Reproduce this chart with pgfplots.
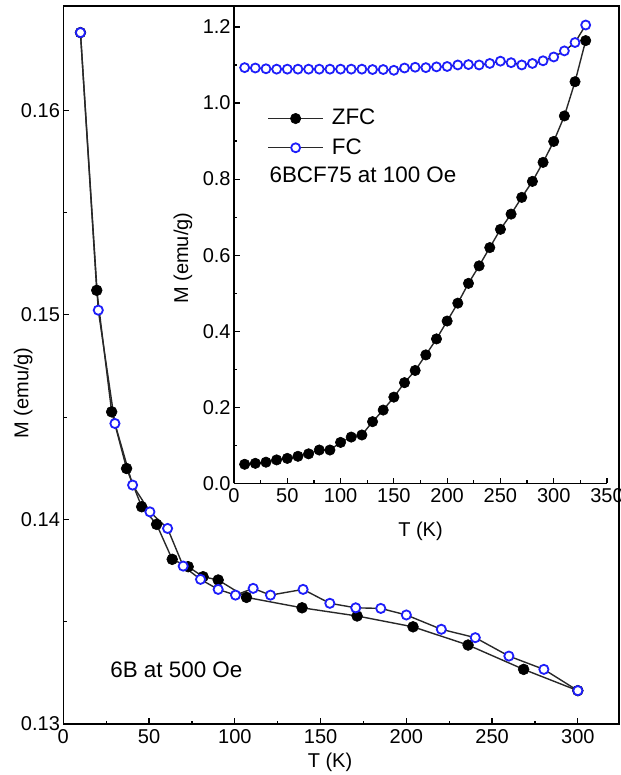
\documentclass[border=0pt]{standalone}
\usepackage{pgfplots}
\pgfplotsset{compat=1.18}
\usepackage{fontspec}
\setmainfont{Liberation Sans}
\definecolor{fcblue}{RGB}{30,30,250}
\definecolor{linegray}{RGB}{40,40,40}
\pgfplotsset{
  every axis/.append style={
    font=\fontsize{10bp}{12bp}\selectfont,
    /pgf/number format/assume math mode=true,
    tick align=inside,
    major tick length=2.8bp, minor tick length=1.6bp,
    axis line style={line width=0.75bp},
    every tick/.style={line width=0.6bp, black},
    yticklabel style={inner sep=1.5bp},
    xticklabel style={inner sep=2.5bp},
  },
  zfc/.style={linegray, line width=0.7bp, mark=*, mark size=2.7bp, mark options={fill=black, draw=black, line width=0.3bp}},
  fc/.style={linegray, line width=0.7bp, mark=*, mark size=2.3bp, mark options={fill=white, draw=fcblue, line width=0.9bp}},
}
\begin{document}
\begin{tikzpicture}
\path[use as bounding box] (0bp,0bp) rectangle (310.5bp,387.5bp);
% main axis
\begin{axis}[
  at={(31.65bp,25.5bp)}, anchor=south west,
  width=277.85bp, height=359bp, scale only axis,
  xmin=0, xmax=324, ymin=0.13, ymax=0.1651,
  xtick={0,50,...,300}, minor x tick num=1,
  ytick={0.13,0.14,0.15,0.16}, minor y tick num=1,
  xtick pos=left, ytick pos=left,
  yticklabel style={/pgf/number format/.cd, fixed, fixed zerofill, precision=2},
  scaled y ticks=false,
  xlabel={T (K)}, ylabel={M (emu/g)},
  xlabel style={at={(axis description cs:0.48,-0.053)}, anchor=center},
  ylabel style={at={(axis description cs:-0.072,0.461)}, anchor=center},
  clip=false,
]
\addplot[zfc] coordinates {
(10,0.1638) (19.5,0.1512) (28.2,0.14526) (36.9,0.14249) (45.7,0.14062)
(54.4,0.13976) (63.5,0.13805) (72.8,0.13769) (81.5,0.13720) (90.3,0.13704)
(106.8,0.13619) (139.2,0.13568) (171.3,0.13528) (203.9,0.13475) (236,0.13386)
(268.4,0.13267) (300,0.13163)};
\addplot[fc] coordinates {
(10,0.1638) (20.4,0.15023) (30.1,0.14469) (40.4,0.14168) (50.5,0.14037)
(60.8,0.13956) (69.9,0.13772) (80,0.13707) (90.3,0.13658) (100.4,0.13630)
(110.7,0.13663) (120.8,0.13630) (139.8,0.13658) (155.4,0.13590) (170.5,0.13568)
(185.1,0.13565) (200,0.13533) (220.4,0.13463) (240.2,0.13422) (259.8,0.13332)
(280.2,0.13267) (300,0.13163)};
\node[anchor=west, inner sep=0pt, font=\fontsize{11.2bp}{13bp}\selectfont] at (axis cs:27.2,0.13267) {6B at 500 Oe};
\end{axis}
% inset
\begin{axis}[
  at={(117bp,145.75bp)}, anchor=south west,
  width=186.5bp, height=238.75bp, scale only axis,
  xmin=0, xmax=350, ymin=0, ymax=1.255,
  axis x line*=bottom, axis y line*=left,
  xtick={0,50,...,350}, minor x tick num=1,
  ytick={0,0.2,...,1.2}, minor y tick num=1,
  yticklabel style={/pgf/number format/.cd, fixed, fixed zerofill, precision=1},
  xlabel={T (K)}, ylabel={M (emu/g)},
  xlabel style={at={(axis description cs:0.5,-0.1005)}, anchor=center},
  ylabel style={at={(axis description cs:-0.1367,0.472)}, anchor=center},
  clip=false,
  legend style={draw=none, fill=none, at={(axis cs:31,0.99)}, anchor=north west,
    font=\fontsize{11.2bp}{13bp}\selectfont, inner sep=0pt,
    nodes={inner sep=1bp}, row sep=3.3bp, column sep=3bp},
  legend cell align=left,
  legend image code/.code={\draw[mark repeat=2,mark phase=2] plot coordinates {(0bp,0bp) (13.75bp,0bp) (27.5bp,0bp)};},
]
\addplot[zfc, mark size=2.6bp] coordinates {
(10,0.0505) (20,0.053) (30,0.056) (40,0.062) (50,0.066) (60,0.0715) (70,0.078)
(80,0.088) (90,0.088) (100,0.108) (110,0.122) (120,0.1275) (130,0.1625)
(140,0.193) (150,0.227) (160,0.265) (170,0.297) (180,0.338) (190,0.380)
(200,0.427) (210,0.474) (220,0.526) (230,0.572) (240,0.620) (250,0.668)
(260,0.708) (270,0.752) (280,0.794) (290,0.844) (300,0.899) (310,0.966)
(320,1.056) (330,1.164)};
\addlegendentry{ZFC}
\addplot[fc, mark size=2.25bp] coordinates {
(10,1.093) (20,1.092) (30,1.090) (40,1.089) (50,1.089) (60,1.089) (70,1.089)
(80,1.089) (90,1.089) (100,1.089) (110,1.089) (120,1.089) (130,1.088)
(140,1.088) (150,1.086) (160,1.092) (170,1.094) (180,1.093) (190,1.095)
(200,1.096) (210,1.100) (220,1.101) (230,1.100) (240,1.104) (250,1.110)
(260,1.106) (270,1.100) (280,1.104) (290,1.111) (300,1.121) (310,1.137)
(320,1.159) (330,1.205)};
\addlegendentry{FC}
\node[anchor=west, inner sep=0pt, font=\fontsize{11.2bp}{13bp}\selectfont] at (axis cs:33,0.811) {6BCF75 at 100 Oe};
\end{axis}
\end{tikzpicture}
\end{document}
